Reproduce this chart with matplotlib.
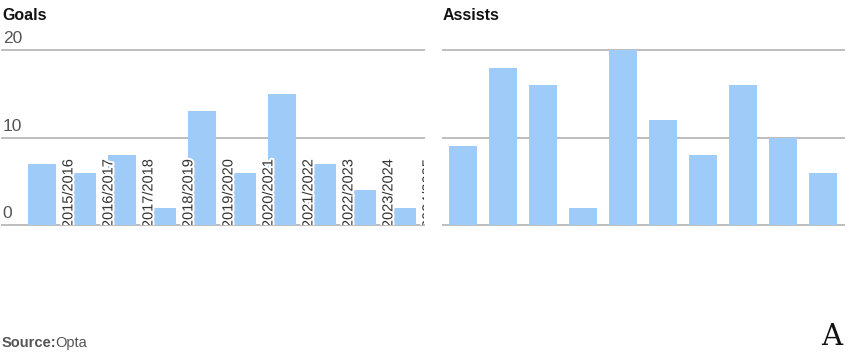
import matplotlib.pyplot as plt
import matplotlib.patheffects as pe

seasons = ['2015/2016', '2016/2017', '2017/2018', '2018/2019', '2019/2020',
           '2020/2021', '2021/2022', '2022/2023', '2023/2024', '2024/2025']
goals = [7, 6, 8, 2, 13, 6, 15, 7, 4, 2]
assists = [9, 18, 16, 2, 20, 12, 8, 16, 10, 6]
yticks = [0, 10, 20]

bar_color = '#9fcbf9'
grid_color = '#bdbdbd'

plt.rcParams['font.family'] = ['Liberation Sans', 'DejaVu Sans']

fig = plt.figure(figsize=(8.51, 3.52), dpi=100)
W, H = 851, 352


def panel(x0, x1, y_top, y_bot):
    return fig.add_axes([x0 / W, (H - y_bot) / H, (x1 - x0) / W, (y_bot - y_top) / H])


ax1 = panel(2, 424, 50, 225)
ax2 = panel(443, 844, 50, 225)

x = list(range(len(seasons)))
for ax, vals in [(ax1, goals), (ax2, assists)]:
    for t in yticks:
        ax.axhline(t, color=grid_color, lw=1.4, zorder=0, clip_on=False)
    ax.bar(x, vals, width=0.7, color=bar_color, zorder=2)
    ax.set_ylim(0, 20)
    for s in ax.spines.values():
        s.set_visible(False)
    ax.set_xticks([])
    ax.set_yticks([])

ax1.set_xlim(-1.0, 9.55)
ax2.set_xlim(-0.5, 9.525)

# y labels only on goals panel
for t in yticks:
    ax1.text(0.002, t + 0.45, str(t), transform=ax1.get_yaxis_transform(),
             ha='left', va='bottom', fontsize=12.5, color='#555555')

# season labels, rotated, with white halo
for i, s in enumerate(seasons):
    ax1.text(i + 0.66, -0.35, s, rotation=90, ha='center', va='bottom',
             fontsize=10.5, color='#333333', zorder=3, clip_on=True,
             path_effects=[pe.withStroke(linewidth=3, foreground='white')])

fig.text(2 / W, 1 - 16 / H, 'Goals', fontsize=11.5, fontweight='bold',
         ha='left', va='center', color='#121212')
fig.text(443 / W, 1 - 16 / H, 'Assists', fontsize=11.5, fontweight='bold',
         ha='left', va='center', color='#121212')

fig.text(2 / W, 1 - 343 / H, 'Source:', fontsize=10.5, fontweight='bold',
         ha='left', va='center', color='#555555')
fig.text(55 / W, 1 - 343 / H, 'Opta', fontsize=10.5,
         ha='left', va='center', color='#555555')
fig.text(832 / W, 1 - 337 / H, 'A', fontsize=21, family='DejaVu Serif',
         ha='center', va='center', color='#121212')

fig.savefig('out.png', dpi=100)
